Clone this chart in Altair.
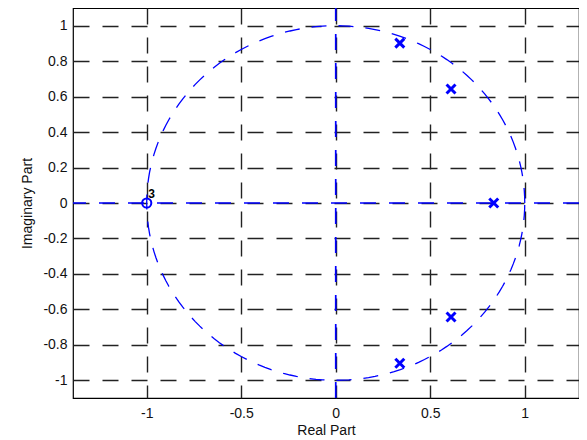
import altair as alt
import pandas as pd

# Pole / zero locations
pole_re = [0.339, 0.610, 0.836, 0.610, 0.339]
pole_im = [0.902, 0.643, 0.0, -0.643, -0.904]
zero_re = [-1.0]
zero_im = [0.0]
zero_mult = ["3"]
axis_re = [0.0]
axis_im = [0.0]

x_ticks = [-1, -0.5, 0, 0.5, 1]
y_ticks = [-1, -0.8, -0.6, -0.4, -0.2, 0, 0.2, 0.4, 0.6, 0.8, 1]
x_domain = [-1.39, 1.287]
y_domain = [-1.1, 1.1]

poles = pd.DataFrame({"re": pole_re, "im": pole_im})
zeros = pd.DataFrame({"re": zero_re, "im": zero_im, "m": zero_mult})
axes0 = pd.DataFrame({"re": axis_re, "im": axis_im})
yspan = pd.DataFrame({"re": axis_re, "lo": [y_domain[0]], "hi": [y_domain[1]]})

BLUE = "#0000ff"
DASH = [16, 13]

def X():
    return alt.X("re:Q", scale=alt.Scale(domain=x_domain, nice=False, zero=False),
                 axis=alt.Axis(values=x_ticks, title="Real Part", labelOverlap=False,
                               format=".1~f",
                               labelExpr="replace(datum.label, '\u2212', '-')"))

def Y(field="im"):
    return alt.Y(f"{field}:Q", scale=alt.Scale(domain=y_domain, nice=False, zero=False),
                 axis=alt.Axis(values=y_ticks, title="Imaginary Part", labelOverlap=False,
                               format=".1~f", labelSeparation=0, labelBound=False,
                               labelExpr="replace(datum.label, '\u2212', '-')"))

circle = (
    alt.Chart(alt.sequence(0, 362, 2, as_="t"))
    .transform_calculate(re="cos(datum.t*PI/180)", im="sin(datum.t*PI/180)")
    .mark_line(color=BLUE, strokeWidth=1.3, strokeDash=[15, 12])
    .encode(x=X(), y=Y(), order="t:Q")
)

hline = alt.Chart(axes0).mark_rule(
    color=BLUE, strokeWidth=1.7, strokeDash=DASH
).encode(y=Y())

vline = alt.Chart(yspan).mark_rule(
    color=BLUE, strokeWidth=1.7, strokeDash=DASH
).encode(x=X(), y=Y("lo"), y2="hi:Q")

pole_marks = alt.Chart(poles).mark_point(
    shape="M-1,-1L1,1M1,-1L-1,1", size=80, strokeWidth=3, color=BLUE, opacity=1
).encode(x=X(), y=Y())

zero_marks = alt.Chart(zeros).mark_point(
    shape="circle", size=85, strokeWidth=2, color=BLUE, filled=False, opacity=1
).encode(x=X(), y=Y())

zero_text = alt.Chart(zeros).mark_text(
    dx=5, dy=-9, fontSize=12, fontWeight="bold", color="black", font="Liberation Sans"
).encode(x=X(), y=Y(), text="m:N")

chart = (
    alt.layer(circle, hline, vline, pole_marks, zero_marks, zero_text)
    .properties(
        width=506, height=390,
        padding={"left": 65, "top": 0, "right": 0, "bottom": 40},
        autosize=alt.AutoSizeParams(type="none"),
    )
    .configure_view(stroke="black", strokeWidth=1.2)
    .configure_axis(
        grid=True, gridDash=DASH, gridColor="#222", gridWidth=1.4, gridOpacity=1,
        domain=False, ticks=False, tickSize=0, labelOverlap=False,
        labelFont="Liberation Sans", labelFontSize=14, labelColor="#111",
        titleFont="Liberation Sans", titleFontSize=14, titleFontWeight="normal",
        titleColor="#111",
    )
    .configure_axisX(labelPadding=8, titlePadding=3)
    .configure_axisY(labelPadding=6, titlePadding=8)
)

chart.save("out.html", embed_options={"renderer": "svg", "actions": False})
